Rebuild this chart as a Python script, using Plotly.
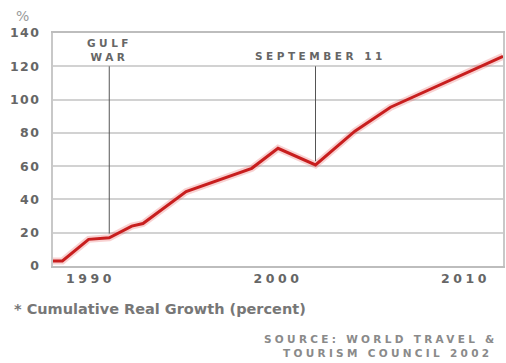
import plotly.graph_objects as go

# ---- data ----
years = [1988, 1988.5, 1989.9, 1990.5, 1991, 1992.2, 1992.8, 1995.1, 1998.6, 2000, 2002, 2004.1, 2006, 2012]
growth = [3, 3, 16, 16.5, 17, 24, 25.5, 44.7, 58.7, 70.7, 60.7, 81, 95.4, 126]

x_ticks = [1990, 2000, 2010]
x_tick_labels = ["1990", "2000", "2010"]
y_ticks = [0, 20, 40, 60, 80, 100, 120, 140]
y_tick_labels = ["0", "20", "40", "60", "80", "100", "120", "140"]

event_labels = ["GULF<br>WAR", "SEPTEMBER 11"]
event_years = [1991, 2002]
event_low = [19.5, 63]
event_high = [120, 120]

footnote = "* Cumulative Real Growth (percent)"
source_lines = ["SOURCE: WORLD TRAVEL &", "TOURISM COUNCIL 2002"]

FONT = "DejaVu Sans"

def spaced(t, px):
    return f'<span style="letter-spacing:{px}px">{t}</span>'

fig = go.Figure()
# soft glow under the line
fig.add_trace(go.Scatter(x=years, y=growth, mode="lines",
                         line=dict(color="rgba(230,90,90,0.28)", width=7),
                         hoverinfo="skip", showlegend=False))
fig.add_trace(go.Scatter(x=years, y=growth, mode="lines",
                         line=dict(color="#c81e1e", width=3),
                         showlegend=False))

for yr, lo, hi in zip(event_years, event_low, event_high):
    fig.add_shape(type="line", xref="x", yref="y", x0=yr, x1=yr, y0=lo, y1=hi,
                  line=dict(color="#555555", width=1))

gw = event_labels[0].split("<br>")
fig.add_annotation(x=event_years[0], y=0.925, xref="x", yref="paper",
                   text="<br>".join("<b>" + spaced(p, 3.5) + "</b>" for p in gw),
                   showarrow=False, font=dict(family=FONT, size=10.5, color="#666666"),
                   xanchor="center", yanchor="middle", align="center")
fig.add_annotation(x=event_years[1], y=0.903, xref="x", yref="paper", xshift=5,
                   text="<b>" + spaced(event_labels[1], 3.5) + "</b>",
                   showarrow=False, font=dict(family=FONT, size=10.5, color="#666666"),
                   xanchor="center", yanchor="middle")

fig.add_annotation(x=-0.068, y=1.073, xref="paper", yref="paper", text="%",
                   showarrow=False, font=dict(family=FONT, size=14, color="#9a9a9a"),
                   xanchor="center", yanchor="middle")
fig.add_annotation(x=-0.0907, y=-0.1845, xref="paper", yref="paper",
                   text="<b>" + footnote + "</b>",
                   showarrow=False, font=dict(family=FONT, size=14.5, color="#777777"),
                   xanchor="left", yanchor="middle")
fig.add_annotation(x=0.4646, y=-0.313, xref="paper", yref="paper",
                   text="<b>" + spaced(source_lines[0], 3.3) + "</b>",
                   showarrow=False, font=dict(family=FONT, size=10.5, color="#8a8a8a"),
                   xanchor="left", yanchor="middle")
fig.add_annotation(x=0.5066, y=-0.373, xref="paper", yref="paper",
                   text="<b>" + spaced(source_lines[1], 3.3) + "</b>",
                   showarrow=False, font=dict(family=FONT, size=10.5, color="#8a8a8a"),
                   xanchor="left", yanchor="middle")

fig.update_layout(
    width=506, height=363,
    margin=dict(l=53, r=1, t=33, b=97),
    paper_bgcolor="white", plot_bgcolor="white",
    xaxis=dict(range=[1988, 2012], tickvals=x_ticks,
               ticktext=["<b>" + spaced(t, 3.5) + "</b>" for t in x_tick_labels],
               showgrid=False, zeroline=False,
               showline=True, linecolor="#bdbdbd", linewidth=2, mirror=True,
               ticks="", ticklen=0,
               tickfont=dict(family=FONT, size=12.5, color="#666666")),
    yaxis=dict(range=[0, 140], tickvals=y_ticks,
               ticktext=["<b>" + spaced(t, 1.5) + "</b>" for t in y_tick_labels],
               showgrid=True, gridcolor="#d2d2d2", gridwidth=1.5,
               zeroline=False, showline=True, linecolor="#c8c8c8", linewidth=2, mirror=True,
               ticks="", ticklabelstandoff=8,
               tickfont=dict(family=FONT, size=12.5, color="#666666")),
)

fig.write_html("out.html")
